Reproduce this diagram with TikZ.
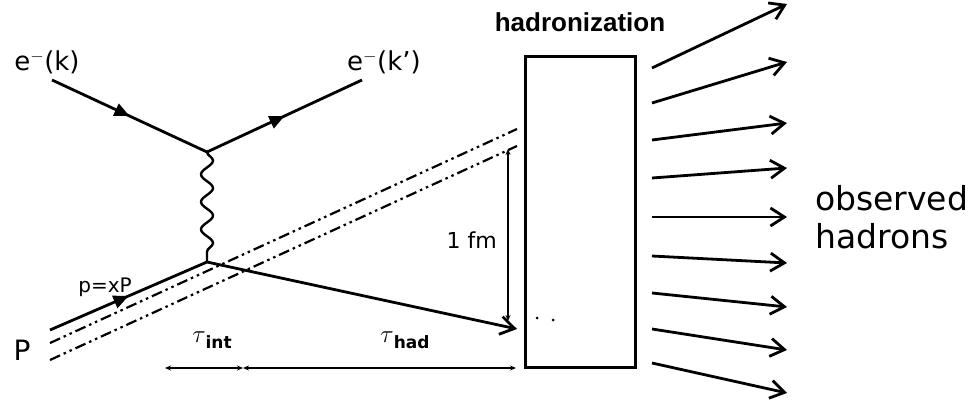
\documentclass[tikz,border=0pt]{standalone}
\usepackage{fontspec}
\setmainfont{DejaVu Sans}
\newfontfamily\hadfont{Liberation Sans}
\usetikzlibrary{positioning,arrows.meta,decorations.markings,decorations.pathmorphing}

\tikzset{
  fermion/.style={line width=2.8pt, postaction={decorate},
    decoration={markings, mark=at position 0.5 with {\arrow{Triangle[length=15pt,width=13pt]}}}},
  photon/.style={line width=2.4pt, decorate, decoration={snake, amplitude=6pt, segment length=27.5pt}},
  remnant/.style={line width=2.2pt, dash pattern=on 11pt off 4pt on 2.5pt off 4pt on 2.5pt off 4pt},
  hadron/.style={line width=2.8pt, -{Straight Barb[length=14pt,width=18pt,line width=2.8pt]}},
  span/.style={line width=2.4pt, {Stealth[length=6pt,width=5pt]}-{Stealth[length=6pt,width=5pt]}},
  lbl/.style={inner sep=0pt, font=\fontsize{26}{30}\selectfont}
}

\begin{document}
\begin{tikzpicture}[x=1pt, y=-1pt]
    \useasboundingbox (0,0) rectangle (979,401);

    % vertices and line ends
    \coordinate (ein) at (52,80);
    \coordinate (eout) at (362,80);
    \coordinate (vtop) at (207,152);
    \coordinate (vbot) at (207,262);
    \coordinate (qin) at (50,330);
    \coordinate (qout) at (517,329);
    \coordinate (ra1) at (50,343);
    \coordinate (rb1) at (517,129);
    \coordinate (ra2) at (50,360);
    \coordinate (rb2) at (517,146);

    \node[lbl] (ek) at (47,62) {e$^{-}$(k)};
    \node[lbl] (ekp) at (384,62) {e$^{-}$(k')};
    \node[lbl, font=\fontsize{20}{24}\selectfont] (pxp) at (105,287) {p=xP};
    \node[lbl, font=\fontsize{28}{30}\selectfont] (proton) at (22,350) {P};

    \draw[fermion] (ein) -- (vtop);
    \draw[fermion] (vtop) -- (eout);
    \draw[photon] (vtop) -- (vbot);
    \draw[fermion] (qin) -- (vbot);
    \draw[hadron] (vbot) -- (qout);
    \draw[remnant] (ra1) -- (rb1);
    \draw[remnant] (ra2) -- (rb2);

    % hadronization box
    \node[draw, line width=3pt, minimum width=110pt, minimum height=310pt] (box) at (580,212) {};
    \node[inner sep=0pt, font=\hadfont\bfseries\fontsize{26}{30}\selectfont] (hadlbl) at (580,22) {hadronization};
    \fill (537,318) circle (1.5pt) (553,320) circle (1.5pt);

    % 1 fm
    \coordinate (fmtop) at (508,149);
    \coordinate (fmbot) at (508,321);
    \coordinate (fmmid) at (508,240);
    \draw[span, line width=2pt] (fmtop) -- (fmbot);
    \node[lbl, font=\fontsize{22}{26}\selectfont, left=11pt of fmmid] (fm) {1 fm};

    % time scales
    \coordinate (t0) at (165,368);
    \coordinate (t1) at (243,368);
    \coordinate (t2) at (516,368);
    \draw[span] (t0) -- (t1);
    \draw[span] (t1) -- (t2);
    \node[lbl] (tint) at (212,340) {\fontsize{32}{32}\selectfont$\tau$\raisebox{-6pt}{\fontsize{17}{20}\selectfont\bfseries int}};
    \node[lbl] (thad) at (405,340) {\fontsize{32}{32}\selectfont$\tau$\raisebox{-6pt}{\fontsize{17}{20}\selectfont\bfseries had}};

    % outgoing hadrons
    \foreach \i/\ys/\ye in {1/68/4, 2/103/62, 3/140/123, 4/178/168, 5/217/217, 6/256/263, 7/293/307, 8/329/350, 9/363/393} {
        \coordinate (hs\i) at (652,\ys);
        \coordinate (he\i) at (787,\ye);
        \draw[hadron] (hs\i) -- (he\i);
    }
    \node[lbl, font=\fontsize{33}{38}\selectfont, align=left, anchor=west] (obs) at (815,217) {observed\\hadrons};
\end{tikzpicture}
\end{document}
